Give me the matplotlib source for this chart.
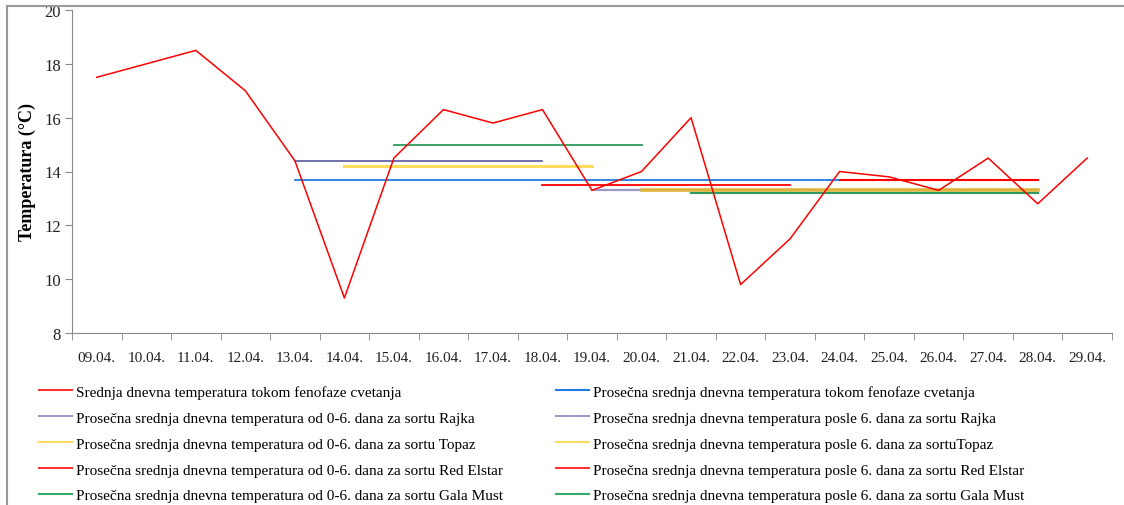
import matplotlib
matplotlib.use("Agg")
import matplotlib.pyplot as plt
from matplotlib.lines import Line2D

plt.rcParams['font.family'] = ['Liberation Serif', 'DejaVu Serif']

dates = ["09.04.", "10.04.", "11.04.", "12.04.", "13.04.", "14.04.", "15.04.",
         "16.04.", "17.04.", "18.04.", "19.04.", "20.04.", "21.04.", "22.04.",
         "23.04.", "24.04.", "25.04.", "26.04.", "27.04.", "28.04.", "29.04."]

daily_temp = [17.5, 18.0, 18.5, 17.0, 14.4, 9.3, 14.5, 16.3, 15.8, 16.3, 13.3,
              14.0, 16.0, 9.8, 11.5, 14.0, 13.8, 13.3, 14.5, 12.8, 14.5]

main_label = "Srednja dnevna temperatura tokom fenofaze cvetanja"

# averages: label, first date, last date, value
avg_labels = [
    "Prosečna srednja dnevna temperatura tokom fenofaze cvetanja",
    "Prosečna srednja dnevna temperatura od 0-6. dana za sortu Rajka",
    "Prosečna srednja dnevna temperatura posle 6. dana za sortu Rajka",
    "Prosečna srednja dnevna temperatura od 0-6. dana za sortu Topaz",
    "Prosečna srednja dnevna temperatura posle 6. dana za sortuTopaz",
    "Prosečna srednja dnevna temperatura od 0-6. dana za sortu Red Elstar",
    "Prosečna srednja dnevna temperatura posle 6. dana za sortu Red Elstar",
    "Prosečna srednja dnevna temperatura od 0-6. dana za sortu Gala Must",
    "Prosečna srednja dnevna temperatura posle 6. dana za sortu Gala Must",
]
avg_start = ["13.04.", "13.04.", "19.04.", "14.04.", "20.04.", "18.04.", "24.04.", "15.04.", "21.04."]
avg_end = ["28.04.", "18.04.", "20.04.", "19.04.", "28.04.", "23.04.", "28.04.", "20.04.", "28.04."]
avg_value = [13.7, 14.4, 13.3, 14.2, 13.3, 13.5, 13.7, 15.0, 13.2]

# styles
avg_colors = ["#1f7be0", "#6464a8", "#9a9acc", "#ffdc5c", "#dcb43c",
              "#ff0000", "#ff0000", "#2e9a5e", "#2e9a5e"]
avg_widths = [1.3, 1.3, 1.6, 2.2, 2.6, 1.3, 1.5, 1.3, 1.5]
legend_colors = ["#1f7be0", "#9a9acc", "#9a9acc", "#ffdc5c", "#ffdc5c",
                 "#ff3333", "#ff3333", "#33aa66", "#33aa66"]

fig = plt.figure(figsize=(11.24, 5.06), dpi=100)
ax = fig.add_axes([72 / 1124, 1 - 334 / 506, 1040 / 1124, 323 / 506])

x = list(range(len(dates)))
ax.plot(x, daily_temp, color="#ff0000", lw=1.1, zorder=3)
for lab, s, e, v, c, w in zip(avg_labels, avg_start, avg_end, avg_value, avg_colors, avg_widths):
    i0, i1 = dates.index(s), dates.index(e)
    ax.plot([i0, i1], [v, v], color=c, lw=w, zorder=2)

ax.set_xlim(-0.5, len(dates) - 0.5)
ax.set_ylim(8, 20)
ax.set_yticks(range(8, 21, 2))
ax.set_xticks(x)
ax.set_xticklabels(dates)
ax.set_xticks([i - 0.5 for i in range(len(dates) + 1)], minor=True)
ax.tick_params(axis='x', which='major', length=0, pad=13, labelsize=11, colors="#222222")
ax.tick_params(axis='x', which='minor', length=5, direction='out', color="#888888")
ax.tick_params(axis='y', length=5, direction='out', color="#888888", labelsize=12, labelcolor="#222222", pad=3)
for side in ['top', 'right']:
    ax.spines[side].set_visible(False)
for side in ['left', 'bottom']:
    ax.spines[side].set_color("#888888")
ax.set_ylabel("Temperatura (°C)", fontsize=13, fontweight='bold')
ax.yaxis.set_label_coords(-36 / 1040, 0.5)

# legend, two columns
col1 = [Line2D([], [], color="#ff3333", lw=1.5)]
lab1 = [main_label]
col2 = [Line2D([], [], color=legend_colors[0], lw=1.5)]
lab2 = [avg_labels[0]]
for i in range(1, len(avg_labels)):
    h = Line2D([], [], color=legend_colors[i], lw=1.5)
    if i % 2 == 1:
        col1.append(h)
        lab1.append(avg_labels[i])
    else:
        col2.append(h)
        lab2.append(avg_labels[i])

common = dict(loc='upper left', frameon=False, fontsize=11, handlelength=2.15,
              handletextpad=0.25, labelspacing=0.8, borderpad=0, borderaxespad=0)
fig.legend(col1, lab1, bbox_to_anchor=(39 / 1124, 1 - 386 / 506), **common)
fig.legend(col2, lab2, bbox_to_anchor=(556 / 1124, 1 - 386 / 506), **common)

# chart border
fig.add_artist(Line2D([7 / 1124, 7 / 1124], [0, 1 - 7 / 506], transform=fig.transFigure, color="#999999", lw=1.5))
fig.add_artist(Line2D([7 / 1124, 1], [1 - 7 / 506, 1 - 7 / 506], transform=fig.transFigure, color="#999999", lw=1.5))

fig.savefig("out.png", dpi=100)
